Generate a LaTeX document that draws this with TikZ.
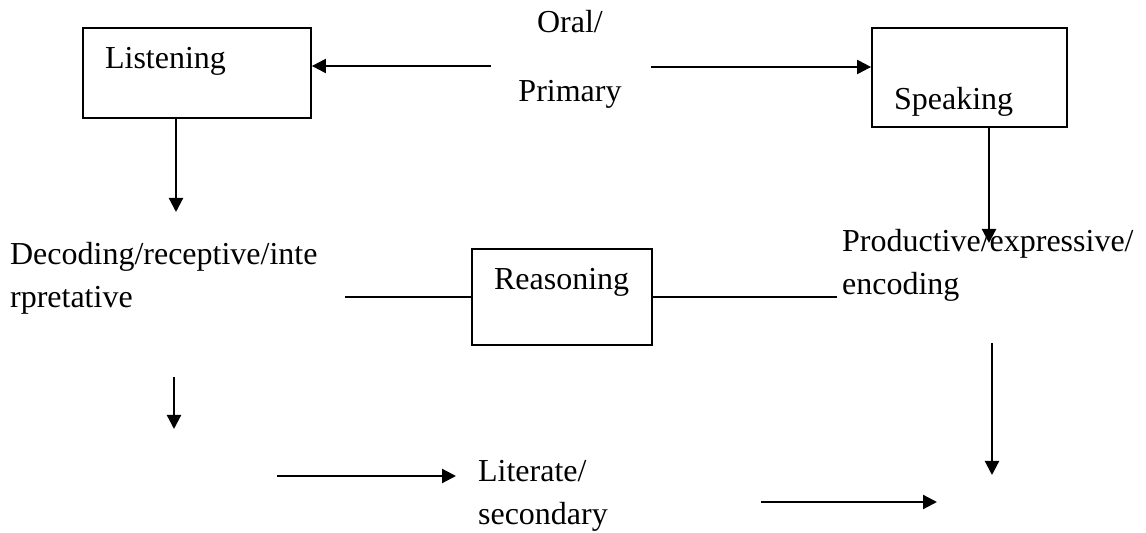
\documentclass[tikz,border=0pt]{standalone}
\usepackage{fontspec}
\setmainfont{Liberation Serif}
\usetikzlibrary{arrows.meta}
\begin{document}
\begin{tikzpicture}[x=0.5pt,y=-0.5pt,line width=1.1pt,>={Triangle[length=7pt,width=7pt]},
		box/.style={draw,line width=0.9pt,inner sep=0pt},
		txt/.style={inner sep=0pt,anchor=base west,align=left,font=\fontsize{16}{21.5}\selectfont}]
			\useasboundingbox (0,0) rectangle (1146,533);
			% boxes
			\node[box,minimum width=114pt,minimum height=45pt] (lst) at (197,73) {};
			\node[box,minimum width=97.5pt,minimum height=49.5pt] (spk) at (969.5,77.5) {};
			\node[box,minimum width=90pt,minimum height=48pt] (rsn) at (562,297) {};
			\node[txt] (lsttxt) at (104,69) {Listening};
			\node[txt] (spktxt) at (893,110) {Speaking};
			\node[txt] (rsntxt) at (493,290) {Reasoning};
			% labels (base = last line)
			\node[txt,align=center,anchor=base] (orl) at (570,102) {Oral/\\[13pt]Primary};
			\node[txt] (dec) at (9,308) {Decoding/receptive/inte\\rpretative};
			\node[txt] (pro) at (841,295) {Productive/expressive/\\encoding};
			\node[txt] (lit) at (477,525) {Literate/\\secondary};
			% free ends
			\coordinate (oa) at (491,66);
			\coordinate (ob) at (651,67);
			\coordinate (ld) at (176,212);
			\coordinate (sd) at (989,243);
			\coordinate (rl) at (345,297);
			\coordinate (rr) at (837,297);
			\coordinate (da) at (174,377);
			\coordinate (db) at (174,429);
			\coordinate (la) at (277,476);
			\coordinate (lb) at (456,476);
			\coordinate (ea) at (992,343);
			\coordinate (eb) at (992,475);
			\coordinate (ba) at (761,502);
			\coordinate (bb) at (937,502);
			% connectors
			\draw[->] (oa)--(lst.east |- oa);
			\draw[->] (ob)--(spk.west |- ob);
			\draw[->] (lst.south -| ld)--(ld);
			\draw[->] (spk.south -| sd)--(sd);
			\draw (rl)--(rsn.west) (rsn.east)--(rr);
			\draw[->] (da)--(db);
			\draw[->] (la)--(lb);
			\draw[->] (ea)--(eb);
			\draw[->] (ba)--(bb);
		\end{tikzpicture}
\end{document}
